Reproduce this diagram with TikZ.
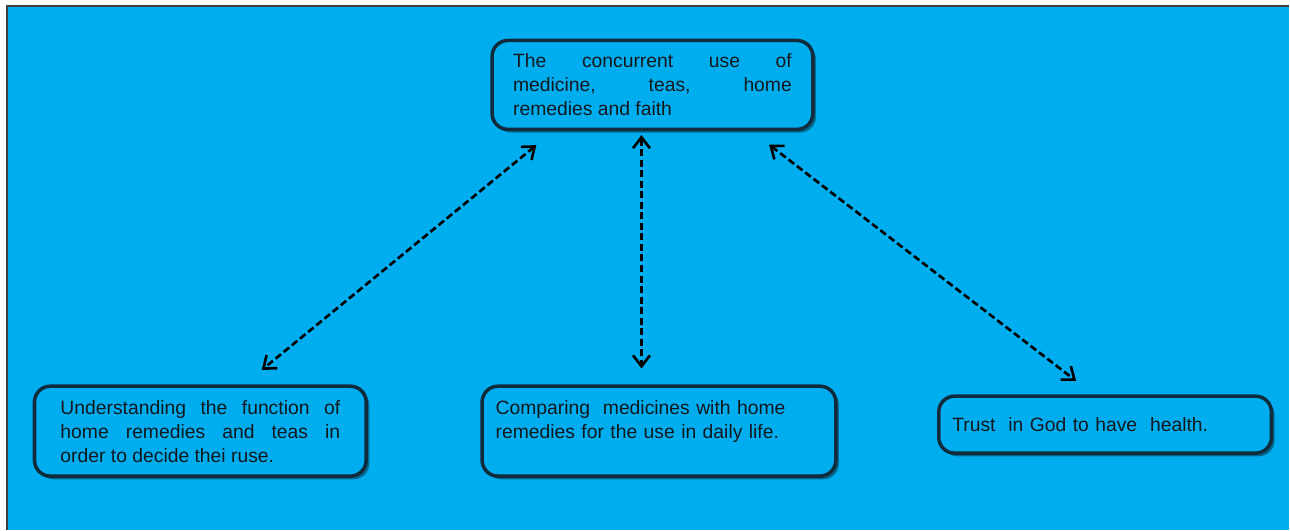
\documentclass[tikz,border=0pt]{standalone}
\usepackage{fontspec}
\setmainfont{Liberation Sans}
\usetikzlibrary{calc,arrows.meta,shadows}
\definecolor{sky}{RGB}{0,174,239}
\definecolor{boxline}{RGB}{16,44,60}
\definecolor{ink}{RGB}{18,24,30}

\begin{document}
\begin{tikzpicture}[x=0.02cm, y=-0.02cm,
        box/.style={rectangle, draw=boxline, line width=2pt, rounded corners=9pt, fill=sky, inner sep=2pt, text=ink,
          font=\fontsize{11}{13.66}\selectfont,
          drop shadow={shadow xshift=1.8pt, shadow yshift=-1.8pt, opacity=0.4, fill=black}},
        link/.style={{Straight Barb[length=2.2mm,width=3.4mm]}-{Straight Barb[length=2.2mm,width=3.4mm]}, line width=1.5pt, dash pattern=on 4pt off 2pt, draw=black},
      ]
      % background
      \fill [white] (0,0) rectangle (1290,530);
      \fill [sky] (6,5) rectangle (1290,530);
      \draw [line width=1.2pt, black!75] (6.6,530) -- (6.6,5.6) -- (1290,5.6);
      % boxes
      \node [box, minimum width=6.42cm, minimum height=1.78cm, text width=5.58cm, align=justify] (use) at (653,85)
        {The concurrent use of\linebreak medicine, teas, home\linebreak remedies and faith};
      \node [box, minimum width=6.64cm, minimum height=1.8cm, text width=5.6cm, align=justify] (function) at (200.5,431.5)
        {Understanding the function of\linebreak home remedies and teas in\linebreak order to decide thei ruse.};
      \node [box, minimum width=7.08cm, minimum height=1.8cm, text width=6.54cm, align=left] (compare) at (659.5,431.5)
        {Comparing\ \ medicines with home\\remedies for the use in daily life.\\\mbox{}};
      \node [box, minimum width=6.66cm, minimum height=1.14cm, text width=6.12cm, align=left] (trust) at (1106,425)
        {Trust\ \ in God to have\ \ health.};
      % connectors
      \draw [link] ($(use.south west)+(46,14)$) -- ($(function.north)+(61.5,-14.5)$);
      \draw [link] ($(use.south)+(-11,4)$) -- ($(compare.north)+(-17.5,-16)$);
      \draw [link] ($(use.south east)+(-45.5,13.5)$) -- ($(trust.north)+(-29,-13.5)$);
    \end{tikzpicture}
\end{document}
